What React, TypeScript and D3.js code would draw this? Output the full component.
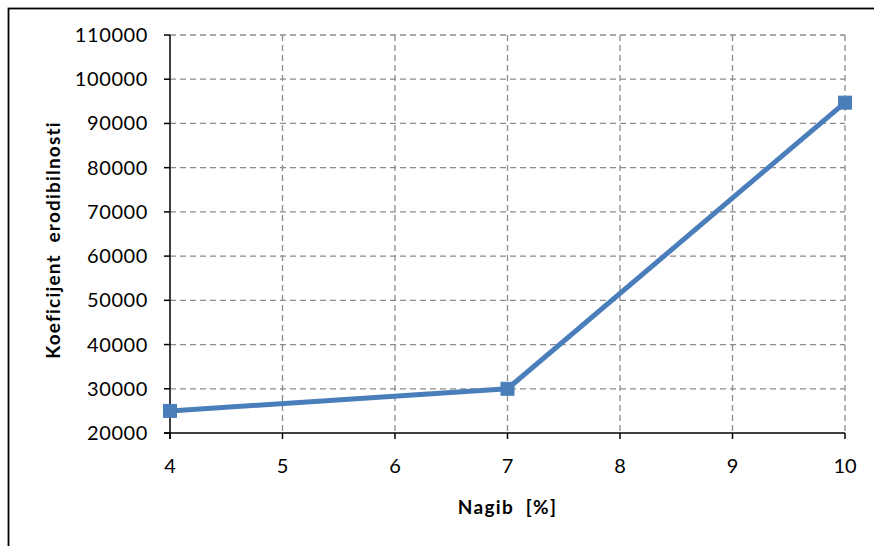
import React from "react";
import * as d3 from "d3";

const xValues = [4, 7, 10];
const yValues = [25000, 30000, 94700];
const xTicks = [4, 5, 6, 7, 8, 9, 10];
const yTicks = [20000, 30000, 40000, 50000, 60000, 70000, 80000, 90000, 100000, 110000];
const xTitle = "Nagib [%]";
const yTitle = "Koeficijent erodibilnosti";

const W = 874;
const H = 546;
const FONT = "Lato, 'Open Sans', sans-serif";

export default function App() {
  const x = d3.scaleLinear().domain([4, 10]).range([170, 845]);
  const y = d3.scaleLinear().domain([20000, 110000]).range([433, 35]);
  const pts = xValues.map((v, i) => [x(v), y(yValues[i])] as [number, number]);
  const line = d3.line()(pts) || "";
  const grid = "#8c8c8c";
  const blue = "#4a7ebb";

  return (
    <div style={{ position: "absolute", left: 0, top: 0, width: W, height: H, overflow: "hidden", background: "#fff" }}>
      <svg width={W} height={H} style={{ display: "block" }}>
        <rect x={8.5} y={8.5} width={880} height={600} fill="#fff" stroke="#000" strokeWidth={1.8} />
        {/* horizontal gridlines */}
        {yTicks.filter((t) => t !== 20000).map((t) => (
          <line key={"gy" + t} x1={x(4)} x2={x(10)} y1={y(t)} y2={y(t)} stroke={grid} strokeWidth={1.3} strokeDasharray="6,4" />
        ))}
        {/* vertical gridlines */}
        {xTicks.filter((t) => t !== 4).map((t) => (
          <line key={"gx" + t} x1={x(t)} x2={x(t)} y1={y(110000)} y2={y(20000)} stroke={grid} strokeWidth={1.3} strokeDasharray="6,4" />
        ))}
        {/* axes */}
        <line x1={x(4)} x2={x(4)} y1={y(110000)} y2={y(20000) + 6} stroke="#000" strokeWidth={1.5} />
        <line x1={x(4) - 6} x2={x(10)} y1={y(20000)} y2={y(20000)} stroke="#000" strokeWidth={1.5} />
        {yTicks.map((t) => (
          <g key={"ty" + t}>
            <line x1={x(4) - 6} x2={x(4)} y1={y(t)} y2={y(t)} stroke="#000" strokeWidth={1.5} />
            <text x={x(4) - 22} y={y(t)} dy="0.35em" textAnchor="end" fontFamily={FONT} fontSize={20} letterSpacing={0.6} fill="#000">
              {t}
            </text>
          </g>
        ))}
        {xTicks.map((t) => (
          <g key={"tx" + t}>
            <line x1={x(t)} x2={x(t)} y1={y(20000)} y2={y(20000) + 6} stroke="#000" strokeWidth={1.5} />
            <text x={x(t)} y={466} dy="0.35em" textAnchor="middle" fontFamily={FONT} fontSize={20} fill="#000">
              {t}
            </text>
          </g>
        ))}
        {/* series */}
        <path d={line} fill="none" stroke={blue} strokeWidth={5} strokeLinejoin="round" />
        {pts.map((p, i) => (
          <rect key={"m" + i} x={p[0] - 6.5} y={p[1] - 6.5} width={13} height={13} fill={blue} stroke="#4a7ebb" strokeWidth={1} />
        ))}
        {/* titles */}
        <text x={(x(4) + x(10)) / 2} y={507} dy="0.35em" textAnchor="middle" fontFamily={FONT} fontWeight="bold" fontSize={19} letterSpacing={1.3} fill="#000">
          {"Nagib\u00a0 [%]"}
        </text>
        <text transform={`translate(53,${(y(20000) + y(110000)) / 2 + 6}) rotate(-90)`} dy="0.35em" textAnchor="middle" fontFamily={FONT} fontWeight="bold" fontSize={19} letterSpacing={1.2} fill="#000">
          {"Koeficijent\u00a0 erodibilnosti"}
        </text>
      </svg>
    </div>
  );
}
